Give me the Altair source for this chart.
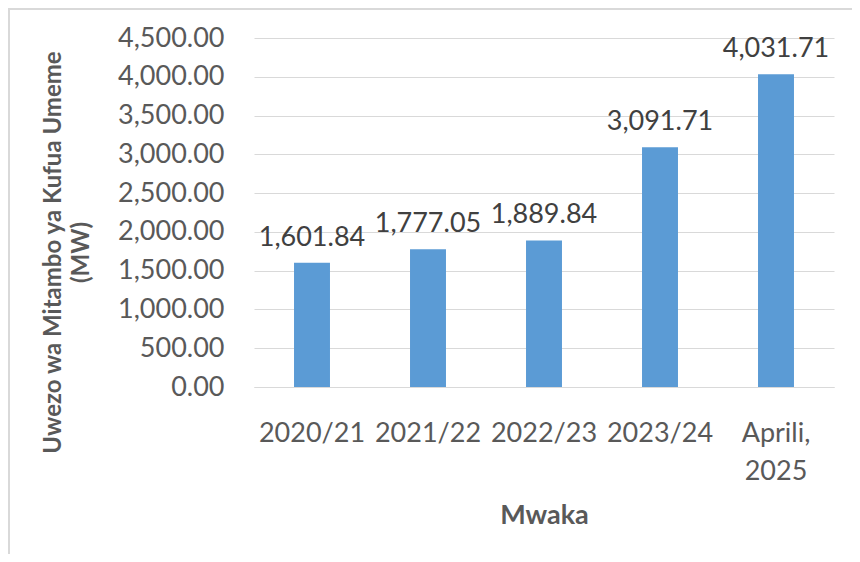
import altair as alt
import pandas as pd

years = ["2020/21", "2021/22", "2022/23", "2023/24", "Aprili,|2025"]
capacity = [1601.84, 1777.05, 1889.84, 3091.71, 4031.71]
y_ticks = [0, 500, 1000, 1500, 2000, 2500, 3000, 3500, 4000, 4500]

df = pd.DataFrame({"Mwaka": years, "MW": capacity})

FONT = "Lato"
W, H = 580, 349
PAD_L, PAD_T = 246, 30
TOTAL_W, TOTAL_H = 844, 546

x_enc = alt.X(
    "Mwaka:N",
    sort=years,
    scale=alt.Scale(paddingInner=0.69, paddingOuter=0.345),
    axis=alt.Axis(
        title="Mwaka",
        labelAngle=0,
        labelExpr="split(datum.label, '|')",
        labelFont=FONT,
        labelFontSize=27,
        labelColor="#595959",
        labelPadding=33,
        labelLineHeight=38,
        labelLimit=200,
        labelOverlap=False,
        ticks=False,
        grid=False,
        domainColor="#d9d9d9",
        domainWidth=1,
        titleFont=FONT,
        titleFontSize=27,
        titleFontWeight="bold",
        titleColor="#595959",
        titlePadding=18,
    ),
)

y_enc = alt.Y(
    "MW:Q",
    scale=alt.Scale(domain=[0, 4500], nice=False),
    axis=alt.Axis(
        title=["Uwezo wa Mitambo ya Kufua Umeme", "(MW)"],
        values=y_ticks,
        tickCount=len(y_ticks),
        format=",.2f",
        labelFont=FONT,
        labelFontSize=27,
        labelColor="#595959",
        labelPadding=30,
        labelOverlap=False,
        labelBound=False,
        ticks=False,
        domain=False,
        grid=True,
        gridColor="#d9d9d9",
        gridWidth=1,
        titleFont=FONT,
        titleFontSize=24,
        titleFontWeight="bold",
        titleColor="#595959",
        titleAngle=270,
        titleAlign="center",
        titleBaseline="middle",
        titleLineHeight=28,
        titleX=-201,
        titleY=214,
    ),
)

base = alt.Chart(df).encode(x=x_enc, y=y_enc)

bars = base.mark_bar(color="#5B9BD5")

labels = base.mark_text(
    baseline="alphabetic", dy=-17, font=FONT, fontSize=27, color="#404040"
).encode(text=alt.Text("MW:Q", format=",.2f"))

frame_left = alt.Chart(df).mark_rule(color="#d9d9d9", strokeWidth=2).encode(
    x=alt.value(-PAD_L + 1), y=alt.value(-PAD_T), y2=alt.value(TOTAL_H - PAD_T)
)
frame_top = alt.Chart(df).mark_rule(color="#d9d9d9", strokeWidth=2).encode(
    y=alt.value(-PAD_T + 1), x=alt.value(-PAD_L), x2=alt.value(TOTAL_W - PAD_L)
)

chart = (
    alt.layer(bars, labels, frame_left, frame_top)
    .properties(
        width=W,
        height=H,
        background="white",
        autosize=alt.AutoSizeParams(type="none"),
        padding={"left": PAD_L, "top": PAD_T, "right": TOTAL_W - PAD_L - W, "bottom": TOTAL_H - PAD_T - H},
    )
    .configure_view(strokeWidth=0, stroke="transparent")
    .configure_axis(labelOverlap=False)
)

chart.save("out.html", embed_options={"renderer": "svg", "actions": False})
